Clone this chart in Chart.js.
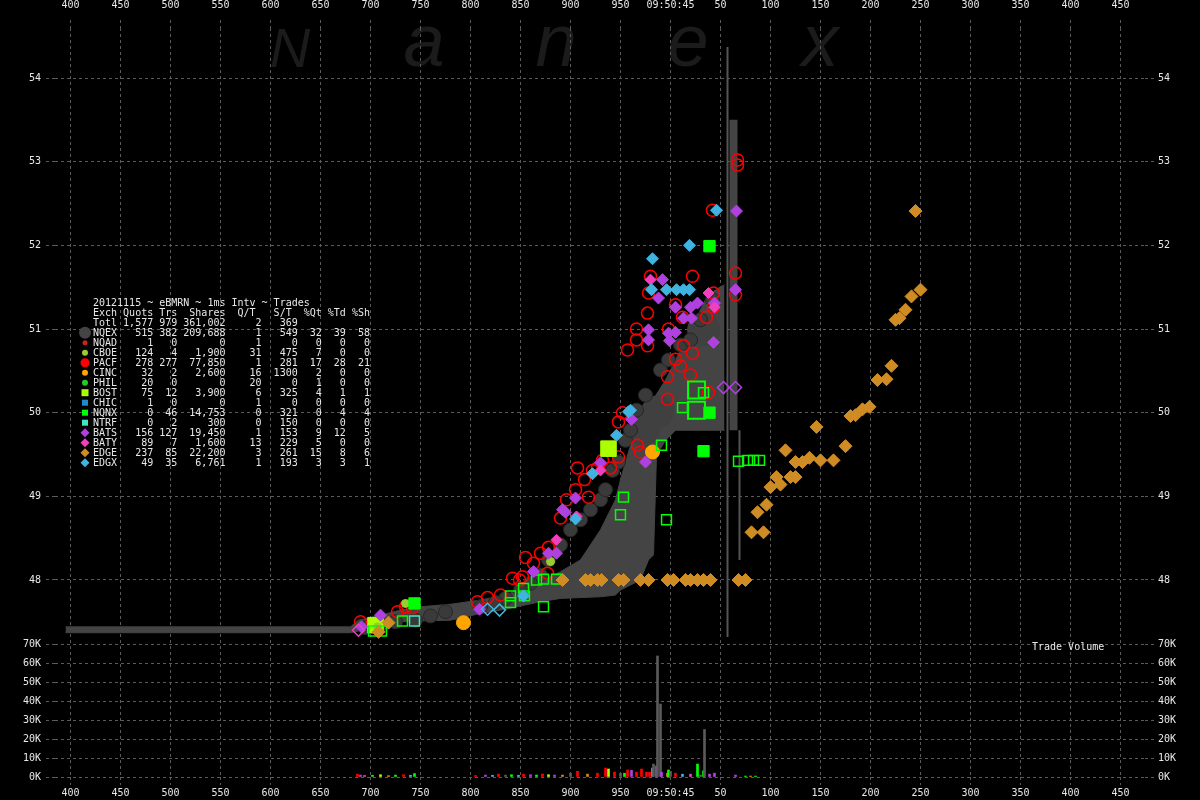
<!DOCTYPE html>
<html><head><meta charset="utf-8">
<script src="https://cdn.jsdelivr.net/npm/chart.js@4.4.1/dist/chart.umd.min.js"></script>
<style>
html,body{margin:0;padding:0;background:#000;width:1200px;height:800px;overflow:hidden;}
#wrap{position:relative;width:1200px;height:800px;}
#wm span{position:absolute;transform:translateX(-50%);font-family:"Liberation Sans",Arial,sans-serif;font-style:italic;color:#1b1b1b;line-height:1;z-index:0;}
#wm .cap{font-size:56px;top:20px;}
#wm .low{font-size:74px;top:4px;}
canvas{position:absolute;left:0;top:0;z-index:1;}
#tbl{position:absolute;left:93px;top:298px;z-index:2;margin:0;font:10px/10px "DejaVu Sans Mono",monospace;color:#e8e8e8;white-space:pre;}
#tv{position:absolute;left:1032px;top:642px;z-index:2;font:10px/10px "DejaVu Sans Mono",monospace;color:#e8e8e8;white-space:pre;}
</style></head>
<body>
<div id="wrap">
  <div id="wm"><span class="cap" style="left:290px">N</span><span class="low" style="left:424px">a</span><span class="low" style="left:556px">n</span><span class="low" style="left:688px">e</span><span class="low" style="left:820px">x</span></div>
  <canvas id="c" width="1200" height="800"></canvas>
  <pre id="tbl"></pre>
  <div id="tv">Trade Volume</div>
</div>
<script>
// ---------- summary table ----------
const tableTitle = "20121115 ~ eBMRN ~ 1ms Intv ~ Trades";
const exchanges = ['NQEX','NQAD','CBOE','PACF','CINC','PHIL','BOST','CHIC','NQNX','NTRF','BATS','BATY','EDGE','EDGX'];
const quots  = [515,1,124,278,32,20,75,1,0,0,156,89,237,49];
const trs    = [382,0,4,277,2,0,12,0,46,2,127,7,85,35];
const shares = [209688,0,1900,77850,2600,0,3900,0,14753,300,19450,1600,22200,6761];
const qPerT  = [1,1,31,1,16,20,6,1,0,0,1,13,3,1];
const sPerT  = [549,0,475,281,1300,0,325,0,321,150,153,229,261,193];
const pctQt  = [32,0,7,17,2,1,4,0,0,0,9,5,15,3];
const pctTd  = [39,0,0,28,0,0,1,0,4,0,12,0,8,3];
const pctSh  = [58,0,0,21,0,0,1,0,4,0,5,0,6,1];
const totals = {quots:1577, trs:979, shares:361002, qPerT:2, sPerT:369};

// ---------- price data (ms after 09:50:44, price) ----------
const bandT  = [395,680,688,710,730,750,780,810,830,850,870,890,910,930,945,950,960,970,978,983,986,995,1005,1015,1025,1035,1045,1054];
const bandHi = [47.44,47.44,47.52,47.58,47.64,47.68,47.71,47.76,47.81,47.88,47.98,48.10,48.24,48.60,48.96,49.20,49.61,49.91,50.09,50.18,50.22,50.39,50.63,50.87,51.11,51.35,51.47,51.53];
const bandLo = [47.37,47.37,47.39,47.43,47.50,47.51,47.52,47.60,47.64,47.69,47.74,47.78,47.79,47.80,47.82,47.88,47.94,48.00,48.24,48.30,49.49,49.67,49.79,49.79,49.79,49.79,49.79,49.79];
const spikeT  = [1057,1063,1069];
const spikeLo = [47.32,49.79,48.24];
const spikeHi = [54.37,53.50,49.79];

const nqexT = [930,935,942,948,955,960,966,975,990,998,1010,1020,1030,1042,910,920,900,890,878,870,860,850,835,825,810,775,760,745,725,710,695];
const nqexP = [48.96,49.08,49.31,49.41,49.67,49.79,50.03,50.21,50.51,50.63,50.81,50.87,51.11,51.35,48.72,48.84,48.60,48.42,48.24,48.06,47.96,47.88,47.78,47.73,47.68,47.62,47.57,47.52,47.50,47.46,47.43];
const nqexBigT = [987,1033,973];
const nqexBigP = [50.01,50.99,49.79];

const pacfT = [980,1022,978,1005,1012,1043,1043,1036,977,966,966,957,977,998,1013,1022,1005,1010,1020,997,997,1038,1065,1065,952,948,967,970,948,940,927,907,1067,1067,1042,918,890,878,870,863,855,849,807,817,830,842,852,877,735,742,690,727,896,905,914,922,932];
const pacfP = [51.63,51.63,51.43,51.29,51.14,51.43,51.26,51.14,51.19,51.00,50.87,50.75,50.80,51.00,50.80,50.71,50.64,50.56,50.45,50.43,50.16,50.24,51.67,51.41,50.00,49.89,49.61,49.53,49.47,49.34,49.34,49.34,52.96,53.02,52.42,48.99,48.74,48.39,48.32,48.20,48.27,48.00,47.74,47.79,47.82,48.02,48.04,48.08,47.68,47.67,47.50,47.62,48.96,49.08,49.20,49.31,49.43];

const batsT = [992,988,1005,1020,1027,1013,1021,978,978,998,1005,999,1043,1044,1065,961,975,1066,886,895,809,691,710,863,878,892,905,930];
const batsP = [51.59,51.37,51.26,51.26,51.31,51.13,51.13,50.99,50.87,50.95,50.96,50.86,50.84,51.31,51.47,49.92,49.41,52.41,48.32,48.81,47.65,47.44,47.58,48.10,48.32,48.84,48.98,49.40];
const batsOpenT = [1053,1065];
const batsOpenP = [50.30,50.30];
const batyT = [1044,886,906,930,980,1038];
const batyP = [51.26,48.48,48.76,49.31,51.59,51.43];
const batyOpenT = [688];
const batyOpenP = [47.40];

const edgeT = [892,915,920,927,931,948,953,970,978,997,1003,1015,1020,1027,1033,1040,1068,1075,1081,1093,1087,1096,1100,1110,1106,1120,1125,1115,1125,1132,1139,1150,1163,1146,1175,1180,1185,1192,1199,1207,1216,1221,1225,1229,1235,1241,1250,1245,708,718];
const edgeP = [48,48,48,48,48,48,48,48,48,48,48,48,48,48,48,48,48,48,48.57,48.57,48.81,48.90,49.11,49.14,49.23,49.23,49.23,49.55,49.41,49.41,49.46,49.43,49.43,49.83,49.60,49.96,49.97,50.04,50.07,50.39,50.40,50.56,51.11,51.13,51.23,51.39,51.47,52.41,47.38,47.49];
const edgxT = [1019,982,981,996,1006,1013,1019,1046,960,946,958,853,922,905];
const edgxP = [52.00,51.84,51.47,51.47,51.47,51.47,51.47,52.42,50.03,49.73,50.01,47.81,49.27,48.73];
const edgxOpenT = [817,829];
const edgxOpenP = [47.65,47.64];

const nqnxT = [1039,1039,1033,744];
const nqnxP = [51.99,50.00,49.54,47.72];
const nqnxBigT = [1026,1026];
const nqnxBigP = [50.27,50.03];
const nqnxOpenT = [1033,1012,991,1068,1077,1083,1089,953,950,996,732,711,703,840,840,853,854,866,873,873,886];
const nqnxOpenP = [50.24,50.06,49.61,49.42,49.43,49.43,49.43,48.99,48.78,48.72,47.51,47.39,47.39,47.81,47.73,47.90,47.81,48.00,47.68,48.01,48.01];
const bostT = [938,705];
const bostP = [49.57,47.46];
const cincT = [982,793];
const cincP = [49.53,47.49];
const cboeT = [880,735,707];
const cboeP = [48.22,47.72,47.44];
const ntrfT = [744];
const ntrfP = [47.51];

// ---------- trade volume ----------
const volT = [687,690,694,702,710,718,725,733,740,744,805,815,822,828,835,841,848,853,860,866,872,878,884,892,900,907,917,927,935,938,944,950,954,957,961,966,971,976,979,982,983,986,987,990,991,997,998,1000,1005,1012,1020,1027,1030,1033,1034,1039,1044,1065,1075,1080,1085];
const volS = [1500,1000,800,900,1200,700,1000,1200,900,1800,800,1000,900,1500,1000,1200,900,1500,1200,1000,1600,1200,1000,1000,2000,3000,1500,2000,4700,4200,2500,2000,2000,3700,3500,2500,4200,2500,2500,4700,6800,5800,63700,38400,2500,2000,3700,3000,2000,1500,1500,6800,1000,3200,25000,1500,2000,1000,500,500,500];
const volEx = ['PACF','BATS','BATY','NQNX','BOST','EDGE','NQNX','PACF','EDGX','NQNX','PACF','BATS','EDGX','PACF','NQEX','NQNX','EDGX','PACF','BATS','NQNX','PACF','BOST','BATS','EDGE','NQEX','PACF','EDGE','PACF','PACF','BOST','PACF','NQEX','NQNX','PACF','BATS','PACF','PACF','PACF','PACF','EDGX','NQEX','BATS','NQEX','NQEX','BATS','EDGE','NQNX','NQEX','PACF','EDGX','BATY','NQNX','NQEX','NQNX','NQEX','BATS','BATS','BATS','NQNX','EDGE','NQNX'];

// ---------- axis tick values ----------
const priceTicks = [48,49,50,51,52,53,54];
const volTicks = [0,10000,20000,30000,40000,50000,60000,70000];
const timeTicks = [400,450,500,550,600,650,700,750,800,850,900,950,1000,1050,1100,1150,1200,1250,1300,1350,1400,1450];
const secondLabel = "09:50:45";

// ---------- styles ----------
const COL = {NQEX:'#444444', NQAD:'#cc2222', CBOE:'#9acd32', PACF:'#ff0000', CINC:'#ffa500', PHIL:'#22cc22', BOST:'#aaff00', CHIC:'#2288cc', NQNX:'#00ff00', NTRF:'#40e8c0', BATS:'#b040e0', BATY:'#f040c0', EDGE:'#d08c24', EDGX:'#40b4e0'};
const MARK = {NQEX:['c',6], NQAD:['c',2.5], CBOE:['c',3], PACF:['c',4.5], CINC:['c',3], PHIL:['c',3], BOST:['r',3.5], CHIC:['r',3], NQNX:['r',3], NTRF:['r',3], BATS:['d',4.5], BATY:['d',4.5], EDGE:['d',4.5], EDGX:['d',4.5]};

// table text
const num = v => v.toLocaleString('en-US');
const pad = (s, n) => String(s).padStart(n);
let lines = [tableTitle, "Exch Quots Trs  Shares  Q/T   S/T  %Qt %Td %Sh"];
lines.push("Totl" + pad(num(totals.quots),6) + pad(num(totals.trs),4) + pad(num(totals.shares),8) + pad(totals.qPerT,6) + pad(totals.sPerT,6));
exchanges.forEach((e,i) => {
  lines.push(e + pad(num(quots[i]),6) + pad(num(trs[i]),4) + pad(num(shares[i]),8) + pad(qPerT[i],6) + pad(sPerT[i],6) + pad(pctQt[i],4) + pad(pctTd[i],4) + pad(pctSh[i],4));
});
document.getElementById('tbl').textContent = lines.join('\n');

const zip = (T, V) => T.map((t, i) => ({x: t, y: V[i]}));
function sc(T, P, o) {
  return Object.assign({type:'scatter', data: zip(T, P), xAxisID:'x', yAxisID:'yP', showLine:false,
    pointStyle:'circle', pointRadius:5, pointHoverRadius:5, pointBorderWidth:1}, o);
}
const NONE = 'rgba(0,0,0,0)';

const datasets = [
  {type:'line', data: zip(bandT, bandLo), xAxisID:'x', yAxisID:'yP', borderColor:'#444', borderWidth:1, pointRadius:0, fill:false, order:100},
  {type:'line', data: zip(bandT, bandHi), xAxisID:'x', yAxisID:'yP', borderColor:'#444', borderWidth:1, pointRadius:0, fill:'-1', backgroundColor:'#444', order:99},
];
const spikeW = [2, 8, 2];
spikeT.forEach((t, i) => {
  datasets.push({type:'line', data:[{x:t, y:spikeLo[i]}, {x:t, y:spikeHi[i]}], xAxisID:'x', yAxisID:'yP',
    borderColor: i === 1 ? '#444' : '#555', borderWidth: spikeW[i], borderCapStyle:'butt', pointRadius:0, fill:false, order:95});
});
datasets.push(
  sc(nqexBigT, nqexBigP, {pointRadius:16, pointBackgroundColor:'#404040', pointBorderColor:'#404040', order:90}),
  sc(nqexT, nqexP, {pointRadius:7, pointBackgroundColor:'#3a3a3a', pointBorderColor:'#262626', order:85}),
  {type:'bar', data: zip(volT, volS), xAxisID:'x', yAxisID:'yV', barThickness:2, order:50,
    backgroundColor: c => volEx[c.dataIndex] === 'NQEX' ? '#5a5a5a' : COL[volEx[c.dataIndex]]},
  sc(pacfT, pacfP, {pointRadius:6, pointBackgroundColor:NONE, pointBorderColor:COL.PACF, pointBorderWidth:1.5, order:40}),
  sc(bostT, bostP, {pointStyle:'rect', pointRadius:11, pointBackgroundColor:COL.BOST, pointBorderColor:COL.BOST, order:34}),
  sc(cincT, cincP, {pointRadius:7, pointBackgroundColor:COL.CINC, pointBorderColor:COL.CINC, order:33}),
  sc(cboeT, cboeP, {pointRadius:4, pointBackgroundColor:COL.CBOE, pointBorderColor:COL.CBOE, order:32}),
  sc(ntrfT, ntrfP, {pointStyle:'rect', pointRadius:7, pointBackgroundColor:NONE, pointBorderColor:COL.NTRF, pointBorderWidth:1.5, order:31}),
  sc(nqnxBigT, nqnxBigP, {pointStyle:'rect', pointRadius:12, pointBackgroundColor:NONE, pointBorderColor:COL.NQNX, pointBorderWidth:2, order:30}),
  sc(nqnxOpenT, nqnxOpenP, {pointStyle:'rect', pointRadius:7, pointBackgroundColor:NONE, pointBorderColor:COL.NQNX, pointBorderWidth:1.5, order:30}),
  sc(nqnxT, nqnxP, {pointStyle:'rect', pointRadius:8, pointBackgroundColor:COL.NQNX, pointBorderColor:COL.NQNX, order:29}),
  sc(batsT, batsP, {pointStyle:'rectRot', pointRadius:6, pointBackgroundColor:COL.BATS, pointBorderColor:COL.BATS, order:20}),
  sc(batsOpenT, batsOpenP, {pointStyle:'rectRot', pointRadius:6, pointBackgroundColor:NONE, pointBorderColor:COL.BATS, pointBorderWidth:1.5, order:20}),
  sc(batyT, batyP, {pointStyle:'rectRot', pointRadius:5.5, pointBackgroundColor:COL.BATY, pointBorderColor:COL.BATY, order:18}),
  sc(batyOpenT, batyOpenP, {pointStyle:'rectRot', pointRadius:6, pointBackgroundColor:NONE, pointBorderColor:COL.BATY, pointBorderWidth:1.5, order:18}),
  sc(edgeT, edgeP, {pointStyle:'rectRot', pointRadius:6.5, pointBackgroundColor:COL.EDGE, pointBorderColor:COL.EDGE, order:15}),
  sc(edgxT, edgxP, {pointStyle:'rectRot', pointRadius:6, pointBackgroundColor:COL.EDGX, pointBorderColor:COL.EDGX, order:12}),
  sc(edgxOpenT, edgxOpenP, {pointStyle:'rectRot', pointRadius:6, pointBackgroundColor:NONE, pointBorderColor:COL.EDGX, pointBorderWidth:1.5, order:12})
);

// ---------- axes ----------
const GRID = '#5a5a5a', TXT = '#e8e8e8';
const FONT = {family:'"DejaVu Sans Mono", monospace', size:10};
const keep = list => s => { s.ticks = list.map(v => ({value: v})); };
const fmtT = v => v === 1000 ? secondLabel : (v > 1000 ? String(v - 1000) : String(v));
function grid(onArea, len) { return {color:GRID, tickColor:GRID, tickBorderDash:[3,3], tickLength:len, drawOnChartArea:onArea, lineWidth:1, offset:false}; }
const BORDER = {display:false, dash:[3,3]};

function xAxis(pos, onArea, h, padding) {
  return {type:'linear', position:pos, min:384.5, max:1474.5, offset:false,
    grid: grid(onArea, 8), border: BORDER,
    ticks:{color:TXT, font:FONT, padding:padding, maxRotation:0, minRotation:0, autoSkip:false, callback: fmtT},
    afterBuildTicks: keep(timeTicks), afterFit: s => { s.height = h; }};
}
function yAxis(pos, stack, weight, sw, onArea, isVol) {
  return {type:'linear', position:pos, stack:stack, stackWeight:sw, weight:weight,
    min: isVol ? 0 : 47.235, max: isVol ? 70000 : 54.598,
    grid: grid(onArea, 9), border: BORDER,
    ticks:{color:TXT, font:FONT, padding: pos === 'left' ? 5 : 4, autoSkip:false,
      callback: v => isVol ? (v / 1000) + 'K' : String(v)},
    afterBuildTicks: keep(isVol ? volTicks : priceTicks), afterFit: s => { s.width = 55; }};
}

const markerPlugin = {
  id:'tableMarkers',
  afterDraw(chart) {
    const ctx = chart.ctx;
    ctx.save();
    exchanges.forEach((ex, i) => {
      const x = 85, y = 332.7 + 10 * i;
      const [s, r] = MARK[ex];
      ctx.fillStyle = COL[ex];
      ctx.beginPath();
      if (s === 'c') ctx.arc(x, y, r, 0, Math.PI * 2);
      else if (s === 'r') ctx.rect(x - r, y - r, 2 * r, 2 * r);
      else { ctx.moveTo(x, y - r); ctx.lineTo(x + r, y); ctx.lineTo(x, y + r); ctx.lineTo(x - r, y); ctx.closePath(); }
      ctx.fill();
    });
    ctx.restore();
  }
};

new Chart(document.getElementById('c'), {
  type:'scatter',
  data:{datasets},
  options:{
    responsive:false, animation:false, devicePixelRatio:1,
    layout:{padding:0},
    plugins:{legend:{display:false}, tooltip:{enabled:false}},
    scales:{
      x: xAxis('bottom', true, 23, 2),
      xTop: xAxis('top', false, 28, 8.5),
      yP: yAxis('left', 'L', 2, 616, true, false),
      yV: yAxis('left', 'L', 1, 133, true, true),
      yP2: yAxis('right', 'R', 1, 616, false, false),
      yV2: yAxis('right', 'R', 2, 133, false, true)
    }
  },
  plugins:[markerPlugin]
});
</script>
</body></html>
